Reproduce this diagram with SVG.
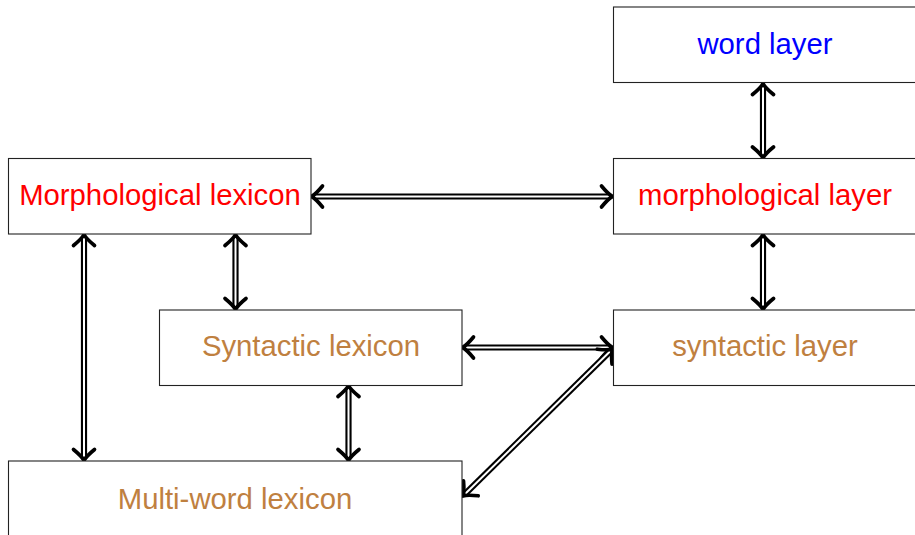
<svg xmlns="http://www.w3.org/2000/svg" width="915" height="535" viewBox="0 0 915 535">
  <defs>
    <marker id="tip" markerUnits="userSpaceOnUse" markerWidth="40" markerHeight="40" refX="0" refY="0" viewBox="-20 -20 40 40" orient="auto-start-reverse" overflow="visible">
      <path d="M -11 -10.5 Q -4 -2 0 0 Q -4 2 -11 10.5" fill="none" stroke="#000" stroke-width="3.7" stroke-linecap="round" stroke-linejoin="round"/>
    </marker>
    <style>
      .box { fill: #fff; stroke: #222; stroke-width: 1.1; }
      .lbl { font-family: "Liberation Sans", Arial, Helvetica, sans-serif; font-size: 29.3px; text-anchor: middle; }
      .red { fill: #ff0000; }
      .blue { fill: #0000ff; }
      .brown { fill: #bf8040; }
      .outer { fill: none; stroke: #000; stroke-width: 6.2; }
      .inner { fill: none; stroke: #fff; stroke-width: 2; marker-start: url(#tip); marker-end: url(#tip); }
    </style>
  </defs>

  <rect width="915" height="535" fill="#fff"/>

  <!-- connectors: double lines with open arrowheads at both ends -->
  <g id="connectors">
    <path class="outer" d="M 763 86 L 763 155"/>
    <path class="inner" d="M 763 83.5 L 763 158"/>

    <path class="outer" d="M 314 196.5 L 610 196.5"/>
    <path class="inner" d="M 311.5 196.5 L 612.5 196.5"/>

    <path class="outer" d="M 235.5 237 L 235.5 307"/>
    <path class="inner" d="M 235.5 234.5 L 235.5 309.5"/>

    <path class="outer" d="M 763 237 L 763 307"/>
    <path class="inner" d="M 763 234.5 L 763 309.5"/>

    <path class="outer" d="M 465 347.5 L 610 347.5"/>
    <path class="inner" d="M 462.5 347.5 L 612.5 347.5"/>

    <path class="outer" d="M 84 237 L 84 458"/>
    <path class="inner" d="M 84 234.5 L 84 460.5"/>

    <path class="outer" d="M 348.5 388 L 348.5 458"/>
    <path class="inner" d="M 348.5 385.5 L 348.5 460.5"/>

    <path class="outer" d="M 610.5 351 L 465 494"/>
    <path class="inner" d="M 612.5 349 L 463 496"/>
  </g>

  <!-- nodes -->
  <g id="word-layer">
    <rect class="box" x="613.5" y="7" width="304" height="75.5"/>
    <text class="lbl blue" x="765" y="53.5">word layer</text>
  </g>
  <g id="morphological-layer">
    <rect class="box" x="613.5" y="158.5" width="304" height="75.5"/>
    <text class="lbl red" x="765" y="204.5">morphological layer</text>
  </g>
  <g id="syntactic-layer">
    <rect class="box" x="613.5" y="310" width="304" height="75.5"/>
    <text class="lbl brown" x="765" y="356">syntactic layer</text>
  </g>
  <g id="morphological-lexicon">
    <rect class="box" x="8.5" y="158.5" width="302.5" height="75.5"/>
    <text class="lbl red" x="160" y="204.5">Morphological lexicon</text>
  </g>
  <g id="syntactic-lexicon">
    <rect class="box" x="159.5" y="310" width="302.5" height="75.5"/>
    <text class="lbl brown" x="311" y="356">Syntactic lexicon</text>
  </g>
  <g id="multi-word-lexicon">
    <rect class="box" x="8.5" y="461" width="453.5" height="85"/>
    <text class="lbl brown" x="235" y="509">Multi-word lexicon</text>
  </g>
</svg>
